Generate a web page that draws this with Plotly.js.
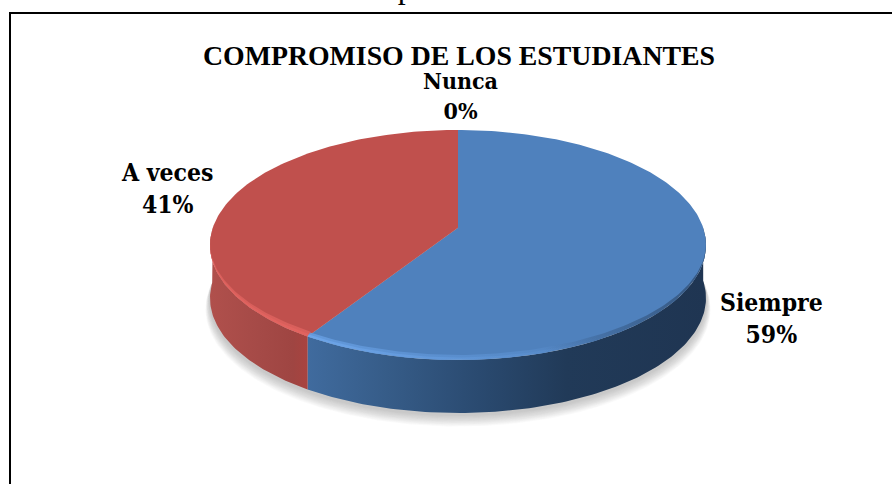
<!DOCTYPE html>
<html><head><meta charset="utf-8">
<script src="https://cdn.plot.ly/plotly-3.0.1.min.js"></script>
<style>html,body{margin:0;padding:0;background:#fff;overflow:hidden}#c{width:892px;height:484px}</style>
</head><body><div id="c"></div>
<script>
const categories = ['Siempre', 'A veces', 'Nunca'];
const values = [59, 41, 0];
const chartTitle = 'COMPROMISO DE LOS ESTUDIANTES';
const captionText = 'Gráfico 10: Compromiso de los estudiantes';

const total = values.reduce((a, b) => a + b, 0);
const cx = 458, cy = 245, rx = 248, ry = 115, depth = 53, persp = 0.15;
const asq = 1 - persp * persp;

// fraction of the whole, clockwise from the top -> point on the top face, with the chart's perspective
function pt(f, scale, dy) {
  const t = 2 * Math.PI * f, X = Math.sin(t), Y = -Math.cos(t), w = 1 - persp * Y;
  const u = (X / w) * Math.sqrt(asq), v = (Y / w - persp / asq) * asq;
  return [cx + rx * (scale || 1) * u, cy + ry * (scale || 1) * v + (dy || 0)];
}
function arc(f0, f1, scale, dy) {
  const n = Math.max(2, Math.ceil(Math.abs(f1 - f0) * 360)), out = [];
  for (let i = 0; i <= n; i++) out.push(pt(f0 + (f1 - f0) * i / n, scale, dy));
  return out;
}
function poly(points, style) {
  return Object.assign({ type: 'scatter', mode: 'lines', x: points.map(p => p[0]), y: points.map(p => p[1]),
    fill: 'toself', line: { width: 0 }, hoverinfo: 'skip', showlegend: false }, style);
}
const data = [];
const hub = [cx, cy - ry * persp];

// soft shadow below the disc
for (let i = 0; i < 12; i++) {
  const g = 13 - i;
  data.push(poly(arc(0, 1, 1 + g * 0.0014, depth + 1 + g * 0.8), { fillcolor: 'rgba(120,120,120,0.035)' }));
}

const f1 = values[0] / total;
const fRight = 0.25, fLeft = 0.75;

// side wall: blue part from the right edge to the split, red part from the split to the left edge
function wall(a, b, stops) {
  return poly(arc(a, b).concat(arc(b, a, 1, depth)), { fillgradient: { type: 'horizontal', colorscale: stops } });
}
data.push(wall(fRight, f1, [[0, '#406b9e'], [0.2, '#365c88'], [0.43, '#2a4a70'], [0.65, '#213a58'], [1, '#1f3552']]));
data.push(wall(f1, fLeft, [[0, '#b0504c'], [0.5, '#a54a47'], [0.85, '#9f4542'], [1, '#a9433f']]));

// top face
data.push(poly([hub].concat(arc(0, f1)), { fillcolor: '#4f81bd' }));
data.push(poly([hub].concat(arc(f1, 1)), { fillcolor: '#c0504d' }));

// bevel on the front rim: tapers to nothing at the left and right extremes
function rim(a, b, w, stops) {
  const outer = arc(a, b), inner = outer.map(p => {
    const k = Math.max(0, (p[1] - cy) / ry);
    return [p[0] + Math.sign(cx - p[0]) * w * k * 0.6, p[1] - w * k];
  });
  return poly(outer.concat(inner.reverse()), { fillgradient: { type: 'horizontal', colorscale: stops } });
}
data.push(rim(f1, 0.75, 6, [[0, 'rgba(222,98,94,0.8)'], [1, 'rgba(222,98,94,0.85)']]));
data.push(rim(f1, 0.75, 3, [[0, 'rgba(228,100,96,0.7)'], [1, 'rgba(228,100,96,0.8)']]));
data.push(rim(0.37, f1, 5, [[0, 'rgba(104,160,228,0.8)'], [0.6, 'rgba(100,155,222,0.35)'], [1, 'rgba(79,129,189,0)']]));
data.push(rim(0.37, f1, 2.5, [[0, 'rgba(112,168,236,0.8)'], [0.6, 'rgba(100,155,222,0.3)'], [1, 'rgba(79,129,189,0)']]));
data.push(rim(0.25, 0.45, 5, [[0, 'rgba(35,58,88,0)'], [0.35, 'rgba(35,58,88,0.25)'], [1, 'rgba(35,58,88,0.6)']]));

const ann = (text, x, y, size, family, extra) => Object.assign({
  text, x, y, xref: 'x', yref: 'y', showarrow: false, xanchor: 'center', yanchor: 'middle',
  font: { family, size, color: '#000' } }, extra);
const labelFont = '"DejaVu Serif Condensed", "DejaVu Serif", serif';
const lbl = i => '<b>' + categories[i] + '<br>' + Math.round(values[i] / total * 100) + '%</b>';

const layout = {
  width: 892, height: 484, margin: { l: 0, r: 0, t: 0, b: 0 },
  paper_bgcolor: '#fff', plot_bgcolor: '#fff', showlegend: false,
  xaxis: { range: [0, 892], visible: false, fixedrange: true },
  yaxis: { range: [484, 0], visible: false, fixedrange: true },
  shapes: [
    { type: 'line', xref: 'x', yref: 'y', x0: 10, x1: 10, y0: 12, y1: 484, line: { color: '#000', width: 2 } },
    { type: 'line', xref: 'x', yref: 'y', x0: 9, x1: 892, y0: 13, y1: 13, line: { color: '#000', width: 2 } }
  ],
  annotations: [
    { text: captionText, xref: 'x', yref: 'paper', x: 458, y: 1, xanchor: 'center', yanchor: 'middle', yshift: 13,
      showarrow: false, font: { family: '"Liberation Serif", serif', size: 32, color: '#000' } },
    ann('<b>' + chartTitle + '</b>', 459, 55, 27.8, '"Liberation Serif", serif'),
    ann(lbl(2), 460, 95, 23, labelFont),
    ann(lbl(1), 167, 188, 24.5, labelFont),
    ann(lbl(0), 771, 318, 24.5, labelFont)
  ]
};
Plotly.newPlot('c', data, layout, { staticPlot: true, displayModeBar: false });
</script></body></html>
